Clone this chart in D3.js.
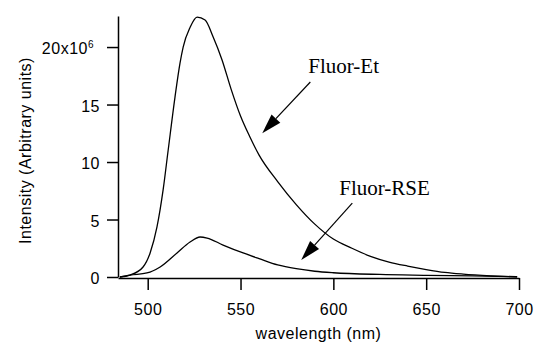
<!DOCTYPE html>
<html>
<head>
<meta charset="utf-8">
<script src="https://cdn.jsdelivr.net/npm/d3@7"></script>
<style>
  body { margin: 0; background: #fff; }
  svg { display: block; }
  .tick text, .label { font-family: Arial, "Liberation Sans", sans-serif; font-size: 16px; letter-spacing: 0.5px; fill: #000; }
  .note { font-family: "Liberation Serif", "Times New Roman", serif; font-size: 21px; fill: #000; }
</style>
</head>
<body>
<div id="chart"></div>
<script>
// emission spectra (intensity in units of 10^6)
var etWave = [485, 490.5, 497.5, 501.3, 505, 508.3, 511, 514.7, 517.4, 519.1, 522.8, 526.6, 530.9, 535.2, 540, 545, 550, 555, 560, 570, 580, 590, 600, 610, 620, 630, 640, 650, 660, 670, 685, 699];
var etValues = [0, 0.17, 0.87, 2.09, 4.35, 7.57, 11.0, 15.65, 18.6, 20.0, 21.7, 22.6, 22.35, 20.9, 18.9, 16.3, 14.0, 12.2, 10.6, 8.3, 6.3, 4.6, 3.3, 2.5, 1.8, 1.3, 0.95, 0.65, 0.4, 0.25, 0.1, 0];

var rseWave = [485, 490.5, 499.6, 506.7, 515.8, 522.8, 528.2, 532, 540.6, 551.4, 560, 570, 580, 590, 600, 625, 650, 675, 699];
var rseValues = [0, 0.17, 0.35, 0.87, 2.09, 3.04, 3.48, 3.39, 2.78, 2.09, 1.6, 1.05, 0.72, 0.5, 0.37, 0.22, 0.15, 0.09, 0.03];

var xTicks = [500, 550, 600, 650, 700];
var yTicks = [0, 5, 10, 15, 20];

// annotation anchors in data units: [text x, text y, tail x, tail y, tip x, tip y]
var notes = [
  { name: "Fluor-Et", pos: [586.5, 17.7, 587.6, 16.96, 561.7, 12.5] },
  { name: "Fluor-RSE", pos: [603.2, 7.13, 610.2, 6.43, 582.7, 1.48] }
];

var w = 536, h = 342;
var mLeft = 118, mRight = 519, mTop = 16, mBottom = 277;

var x = d3.scaleLinear().domain([484, 700]).range([mLeft, mRight]);
var y = d3.scaleLinear().domain([0, 22.7]).range([mBottom, mTop]);

var svg = d3.select("#chart").append("svg")
  .attr("width", w)
  .attr("height", h);

// axes
var xAxis = svg.append("g")
  .attr("transform", "translate(0," + (mBottom + 1) + ")")
  .call(d3.axisBottom(x).tickValues(xTicks).tickSize(12).tickSizeOuter(0));

var yAxis = svg.append("g")
  .attr("transform", "translate(" + mLeft + ",0)")
  .call(d3.axisLeft(y).tickValues(yTicks).tickSize(11).tickSizeOuter(0).tickPadding(7)
    .tickFormat(function(d) { return d == 20 ? "20x10" : d; }));

svg.selectAll(".domain, .tick line").attr("stroke", "#000").attr("stroke-width", 1.5);
svg.selectAll(".tick text").attr("font-family", null).attr("font-size", null);
xAxis.selectAll(".tick text").attr("y", 37).attr("dy", null);
yAxis.selectAll(".tick text").attr("dy", "0.42em");

// superscript on the top label
yAxis.selectAll(".tick text").filter(function(d) { return d == 20; })
  .attr("dx", "-6")
  .append("tspan")
  .attr("dy", "-0.6em")
  .attr("font-size", "10px")
  .text("6");

// axis titles
svg.append("text")
  .attr("class", "label")
  .attr("x", (mLeft + mRight) / 2)
  .attr("y", 339)
  .attr("text-anchor", "middle")
  .text("wavelength (nm)");

svg.append("text")
  .attr("class", "label")
  .attr("transform", "translate(31," + ((mTop + mBottom) / 2 + 4) + ") rotate(-90)")
  .attr("text-anchor", "middle")
  .text("Intensity (Arbitrary units)");

// curves
var line = d3.line()
  .x(function(d) { return x(d[0]); })
  .y(function(d) { return y(d[1]); })
  .curve(d3.curveMonotoneX);

[[etWave, etValues], [rseWave, rseValues]].forEach(function(s) {
  svg.append("path")
    .datum(d3.zip(s[0], s[1]))
    .attr("fill", "none")
    .attr("stroke", "#000")
    .attr("stroke-width", 1.3)
    .attr("d", line);
});

// arrows with labels
notes.forEach(function(n) {
  var p = n.pos;
  var x1 = x(p[2]), y1 = y(p[3]), x2 = x(p[4]), y2 = y(p[5]);
  var ang = Math.atan2(y2 - y1, x2 - x1);
  var len = 20, half = 6;
  var bx = x2 - len * Math.cos(ang), by = y2 - len * Math.sin(ang);
  var px = -Math.sin(ang) * half, py = Math.cos(ang) * half;

  svg.append("line")
    .attr("x1", x1).attr("y1", y1)
    .attr("x2", bx).attr("y2", by)
    .attr("stroke", "#000")
    .attr("stroke-width", 1.2);

  svg.append("path")
    .attr("d", "M" + x2 + "," + y2 + "L" + (bx + px) + "," + (by + py) + "L" + (bx - px) + "," + (by - py) + "Z")
    .attr("fill", "#000");

  svg.append("text")
    .attr("class", "note")
    .attr("x", x(p[0]))
    .attr("y", y(p[1]))
    .text(n.name);
});
</script>
</body>
</html>
